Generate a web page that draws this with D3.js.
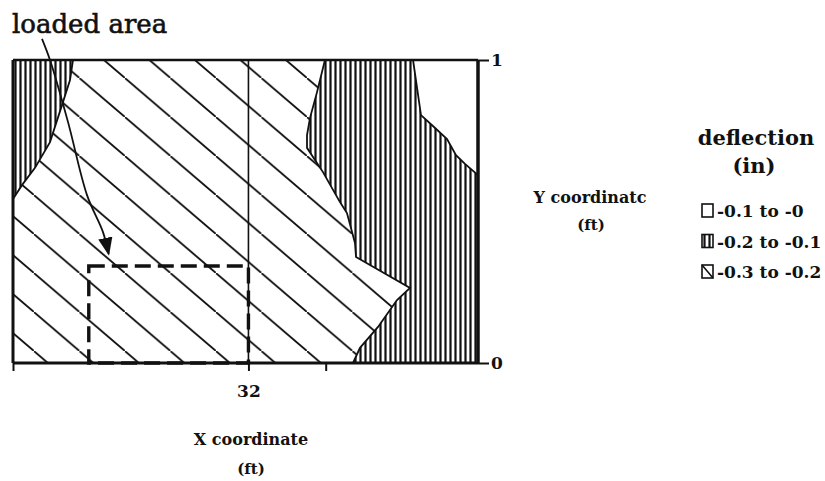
<!DOCTYPE html>
<html>
<head>
<meta charset="utf-8">
<script src="https://cdn.jsdelivr.net/npm/d3@7"></script>
<style>
body { margin: 0; background: #fff; }
text { font-family: "DejaVu Serif", serif; fill: #111; }
.axis text { font-size: 17px; font-weight: bold; }
.axis line { stroke: #111; stroke-width: 2; }
</style>
</head>
<body>
<svg width="825" height="481"></svg>
<script>
// ---- data (x and y in ft) ----
var xDomain = [0, 63.2];
var yDomain = [0, 1];
var xTicks = [0, 32, 42.5];
var xTickLabels = ["", "32", ""];
var yTicks = [0, 1];

// contour between -0.2..-0.1 (top-left corner) and -0.3..-0.2
var leftContour = [[8.15, 1], [7.75, 0.934], [6.66, 0.851], [5.03, 0.729],
  [2.99, 0.644], [1.22, 0.587], [0, 0.541]];
// contour between -0.3..-0.2 and -0.2..-0.1
var midContour = [[42.4, 1], [41.32, 0.894], [40.37, 0.809], [39.96, 0.752],
  [39.96, 0.71], [42.13, 0.63], [44.44, 0.531], [45.39, 0.495], [46.48, 0.396],
  [46.62, 0.35], [53.96, 0.248], [52.19, 0.208], [49.61, 0.119], [47.16, 0.05],
  [46.21, 0]];
// contour between -0.2..-0.1 and -0.1..-0
var rightContour = [[54.37, 1], [55.45, 0.818], [57.22, 0.779], [58.99, 0.739],
  [60.21, 0.686], [61.43, 0.657], [63.2, 0.62]];

var loadedX = [10.3, 32];
var loadedY = [0, 0.32];
var arrowPts = [[3.94, 1.07], [5.03, 1.0], [7.48, 0.795], [10.06, 0.554],
  [12.23, 0.432], [13.0, 0.36]];

var legendLabels = ["-0.1 to -0", "-0.2 to -0.1", "-0.3 to -0.2"];
var legendFills = ["white", "url(#vhatch)", "white"];

// ---- layout ----
var svg = d3.select("svg"),
  margin = {top: 60, left: 13},
  width = 465,
  height = 303;

var x = d3.scaleLinear().domain(xDomain).range([0, width]),
  y = d3.scaleLinear().domain(yDomain).range([height, 0]);

var defs = svg.append("defs");

var vh = defs.append("pattern")
  .attr("id", "vhatch")
  .attr("patternUnits", "userSpaceOnUse")
  .attr("width", 5).attr("height", 10);
vh.append("rect").attr("width", 5).attr("height", 10).attr("fill", "#fff");
vh.append("line")
  .attr("x1", 2.5).attr("x2", 2.5).attr("y1", 0).attr("y2", 10)
  .attr("stroke", "#111").attr("stroke-width", 2.2);

// diagonal hatch, slope ~0.857 going down-right
var dW = 45.5, dH = 39;
var dh = defs.append("pattern")
  .attr("id", "dhatch")
  .attr("patternUnits", "userSpaceOnUse")
  .attr("x", 33.9 - margin.left).attr("y", -margin.top)
  .attr("width", dW).attr("height", dH);
dh.append("rect").attr("width", dW).attr("height", dH).attr("fill", "#fff");
dh.append("line")
  .attr("x1", -dW * 0.1).attr("y1", -dH * 0.1)
  .attr("x2", dW * 1.1).attr("y2", dH * 1.1)
  .attr("stroke", "#111").attr("stroke-width", 1.8);

defs.append("marker")
  .attr("id", "arrowhead")
  .attr("viewBox", "0 0 10 10")
  .attr("refX", 9).attr("refY", 5)
  .attr("markerUnits", "userSpaceOnUse")
  .attr("markerWidth", 18).attr("markerHeight", 18)
  .attr("orient", "auto")
  .append("path")
  .attr("d", "M0,1 L10,5 L0,9 Z")
  .attr("fill", "#111");

var g = svg.append("g")
  .attr("transform", "translate(" + margin.left + "," + margin.top + ")");

var line = d3.line()
  .x(function (d) { return x(d[0]); })
  .y(function (d) { return y(d[1]); });

// regions built from the contours
var regions = [
  {fill: "url(#vhatch)", pts: leftContour.concat([[xDomain[0], yDomain[1]]])},
  {fill: "url(#dhatch)", pts: leftContour.concat([[xDomain[0], yDomain[0]]], midContour.slice().reverse())},
  {fill: "url(#vhatch)", pts: midContour.concat([[xDomain[1], yDomain[0]]], rightContour.slice().reverse())},
  {fill: "#fff", pts: rightContour.concat([[xDomain[1], yDomain[1]]])}
];

g.selectAll(".region")
  .data(regions)
  .enter().append("path")
  .attr("class", "region")
  .attr("d", function (d) { return line(d.pts) + "Z"; })
  .attr("fill", function (d) { return d.fill; });

g.selectAll(".contour")
  .data([leftContour, midContour, rightContour])
  .enter().append("path")
  .attr("class", "contour")
  .attr("d", line)
  .attr("fill", "none")
  .attr("stroke", "#111")
  .attr("stroke-width", 1.8);

// grid line at 32
g.append("line")
  .attr("x1", x(32)).attr("x2", x(32))
  .attr("y1", y(yDomain[0])).attr("y2", y(yDomain[1]))
  .attr("stroke", "#111").attr("stroke-width", 1.6);

// loaded area
g.append("rect")
  .attr("x", x(loadedX[0]))
  .attr("y", y(loadedY[1]))
  .attr("width", x(loadedX[1]) - x(loadedX[0]))
  .attr("height", y(loadedY[0]) - y(loadedY[1]))
  .attr("fill", "none")
  .attr("stroke", "#111")
  .attr("stroke-width", 3.4)
  .attr("stroke-dasharray", "16,7");

// frame
g.append("line").attr("x1", 0).attr("x2", width).attr("y1", 0).attr("y2", 0)
  .attr("stroke", "#111").attr("stroke-width", 2.4);
g.append("line").attr("x1", 0).attr("x2", width).attr("y1", height).attr("y2", height)
  .attr("stroke", "#111").attr("stroke-width", 3);
g.append("line").attr("x1", 0).attr("x2", 0).attr("y1", 0).attr("y2", height)
  .attr("stroke", "#111").attr("stroke-width", 3);
g.append("line").attr("x1", width).attr("x2", width).attr("y1", 0).attr("y2", height)
  .attr("stroke", "#111").attr("stroke-width", 3.5);

// axes
var xAxis = d3.axisBottom(x)
  .tickValues(xTicks)
  .tickSize(8)
  .tickPadding(14)
  .tickFormat(function (d, i) { return xTickLabels[i]; });
var yAxis = d3.axisRight(y)
  .tickValues(yTicks)
  .tickSize(11)
  .tickPadding(2)
  .tickFormat(d3.format("d"));

g.append("g")
  .attr("class", "axis axis--x")
  .attr("transform", "translate(0," + height + ")")
  .call(xAxis)
  .call(function (s) { s.select(".domain").remove(); });

g.append("g")
  .attr("class", "axis axis--y")
  .attr("transform", "translate(" + width + ",0)")
  .call(yAxis)
  .call(function (s) { s.select(".domain").remove(); });

// annotation arrow
g.append("path")
  .datum(arrowPts)
  .attr("d", line.curve(d3.curveCatmullRom))
  .attr("fill", "none")
  .attr("stroke", "#111")
  .attr("stroke-width", 1.8)
  .attr("marker-end", "url(#arrowhead)");

svg.append("text")
  .attr("x", 12).attr("y", 33)
  .style("font-size", "26px")
  .style("stroke", "#111").style("stroke-width", 0.6)
  .text("loaded area");

// axis titles
svg.append("text").attr("x", 251).attr("y", 445)
  .attr("text-anchor", "middle").style("font-size", "16px").style("font-weight", "bold")
  .text("X coordinate");
svg.append("text").attr("x", 251).attr("y", 474)
  .attr("text-anchor", "middle").style("font-size", "15px").style("font-weight", "bold")
  .text("(ft)");
svg.append("text").attr("x", 590).attr("y", 203)
  .attr("text-anchor", "middle").style("font-size", "16px").style("font-weight", "bold")
  .text("Y coordinatc");
svg.append("text").attr("x", 591).attr("y", 230)
  .attr("text-anchor", "middle").style("font-size", "15px").style("font-weight", "bold")
  .text("(ft)");

// legend
svg.append("text").attr("x", 756).attr("y", 145)
  .attr("text-anchor", "middle").style("font-size", "21px").style("font-weight", "bold")
  .text("deflection");
svg.append("text").attr("x", 754).attr("y", 173)
  .attr("text-anchor", "middle").style("font-size", "21px").style("font-weight", "bold")
  .text("(in)");

var legend = svg.selectAll(".legend")
  .data(legendLabels)
  .enter().append("g")
  .attr("class", "legend")
  .attr("transform", function (d, i) { return "translate(702," + (204 + i * 30.5) + ")"; });

legend.append("rect")
  .attr("width", 11).attr("height", 13)
  .attr("fill", function (d, i) { return legendFills[i]; })
  .attr("stroke", "#111").attr("stroke-width", 1.6);

legend.filter(function (d, i) { return i === 2; })
  .append("line")
  .attr("x1", 0).attr("y1", 0).attr("x2", 11).attr("y2", 13)
  .attr("stroke", "#111").attr("stroke-width", 1.6);

legend.append("text")
  .attr("x", 15).attr("y", 13)
  .style("font-size", "17px").style("font-weight", "bold")
  .text(function (d) { return d; });
</script>
</body>
</html>
